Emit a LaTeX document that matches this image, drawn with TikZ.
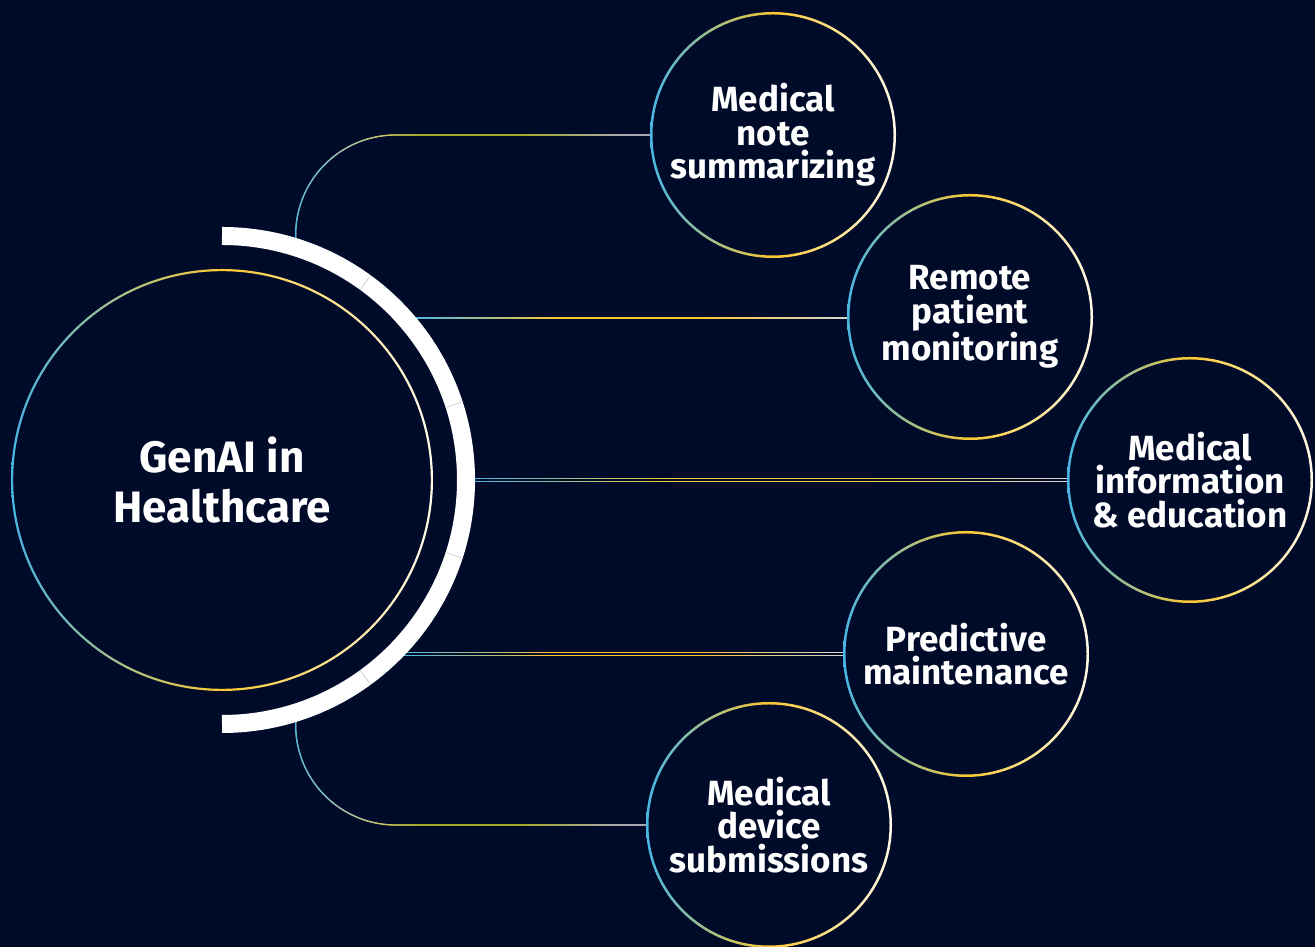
\documentclass[tikz,border=0pt]{standalone}
\usepackage{fontspec}
\setmainfont{Fira Sans}
\usetikzlibrary{calc}
\definecolor{navy}{RGB}{0,11,41}
\definecolor{ringblue}{RGB}{72,182,228}
\definecolor{ringgold}{RGB}{252,200,48}
\definecolor{ringcream}{RGB}{255,250,232}
\definecolor{linkgrey}{RGB}{215,215,210}
\pgfdeclarehorizontalshading{linkfade}{100bp}{color(0bp)=(ringblue); color(25bp)=(ringblue); color(42bp)=(ringgold); color(58bp)=(ringgold); color(75bp)=(linkgrey); color(100bp)=(linkgrey)}
\pgfdeclarelayer{bg}
\pgfdeclarelayer{links}
\pgfsetlayers{bg,links,main}

\begin{document}
\begin{tikzpicture}[x=1pt,y=1pt,
    every node/.style={text=white, align=center},
    topic/.style={circle, fill=navy, minimum size=246pt, inner sep=0pt, font=\bfseries\fontsize{35}{33.5}\selectfont},
    hubnode/.style={circle, fill=navy, minimum size=422pt, inner sep=0pt, font=\bfseries\fontsize{44}{50}\selectfont},
    glow/.style={even odd rule, left color=ringblue, right color=ringcream, middle color=ringgold},
    link/.style={white, line width=1.3pt},
    twin/.style={white, line width=0.9pt, double=navy, double distance=1.4pt},
    tint/.style={shading=linkfade, blend mode=darken}]
  \begin{pgfonlayer}{bg}
    \fill[navy] (0,0) rectangle (1315,947);
  \end{pgfonlayer}
  \useasboundingbox (0,0) rectangle (1315,947);

  % hub and topics
  \node[hubnode] (hub) at (222,467) {GenAI in\\Healthcare};
  \node[topic] (c1) at (773,812) {Medical\\note\\summarizing};
  \node[topic] (c2) at (970,630) {Remote\\patient\\monitoring};
  \node[topic] (c3) at (1190,467) {Medical\\information\\\& education};
  \node[topic] (c4) at (966,293) {Predictive\\maintenance};
  \node[topic] (c5) at (769,122) {Medical\\device\\submissions};

  \foreach \n/\r/\w in {hub/211/2.2, c1/123/2.5, c2/123/2.5, c3/123/2.5, c4/123/2.5, c5/123/2.5}
    \shade[glow] (\n.center) circle (\r) circle (\r-\w);

  % white band round the hub
  \draw[white, line width=18pt] (hub.center) ++(90:244) arc[start angle=90, end angle=-90, radius=244];
  \foreach \a in {54,18,-18,-54}
    \draw[black!25, line width=0.5pt] (hub.center) ++(\a:235) -- ++(\a:18);

  \coordinate (s1) at ($(hub.center)+(73:252)$);
  \coordinate (s2) at ($(hub.center)+(40:252)$);
  \coordinate (s3) at ($(hub.center)+(0:252)$);
  \coordinate (s4) at ($(hub.center)+(-43.7:252)$);
  \coordinate (s5) at ($(hub.center)+(-73:252)$);

  \begin{pgfonlayer}{links}
    \draw[link, rounded corners=100pt] (s1) |- (c1.west);
    \draw[link, line width=2pt] (s2) -- (s2 -| c2.west);
    \draw[twin] (s3) -- (c3.west);
    \draw[twin] (s4) -- (s4 -| c4.west);
    \draw[link, rounded corners=100pt] (s5) |- (c5.west);
    % colour the links
    \shade[tint] ($(s1)+(-3,-4)$) rectangle ($(c1.west)+(0,3)$);
    \shade[tint] ($(s2)+(-3,-3)$) rectangle ($(s2 -| c2.west)+(0,3)$);
    \shade[tint] ($(s3)+(-3,-3)$) rectangle ($(c3.west)+(0,3)$);
    \shade[tint] ($(s4)+(-3,-3)$) rectangle ($(s4 -| c4.west)+(0,3)$);
    \shade[tint] ($(s5)+(-3,4)$) rectangle ($(c5.west)+(0,-3)$);
  \end{pgfonlayer}
\end{tikzpicture}
\end{document}
